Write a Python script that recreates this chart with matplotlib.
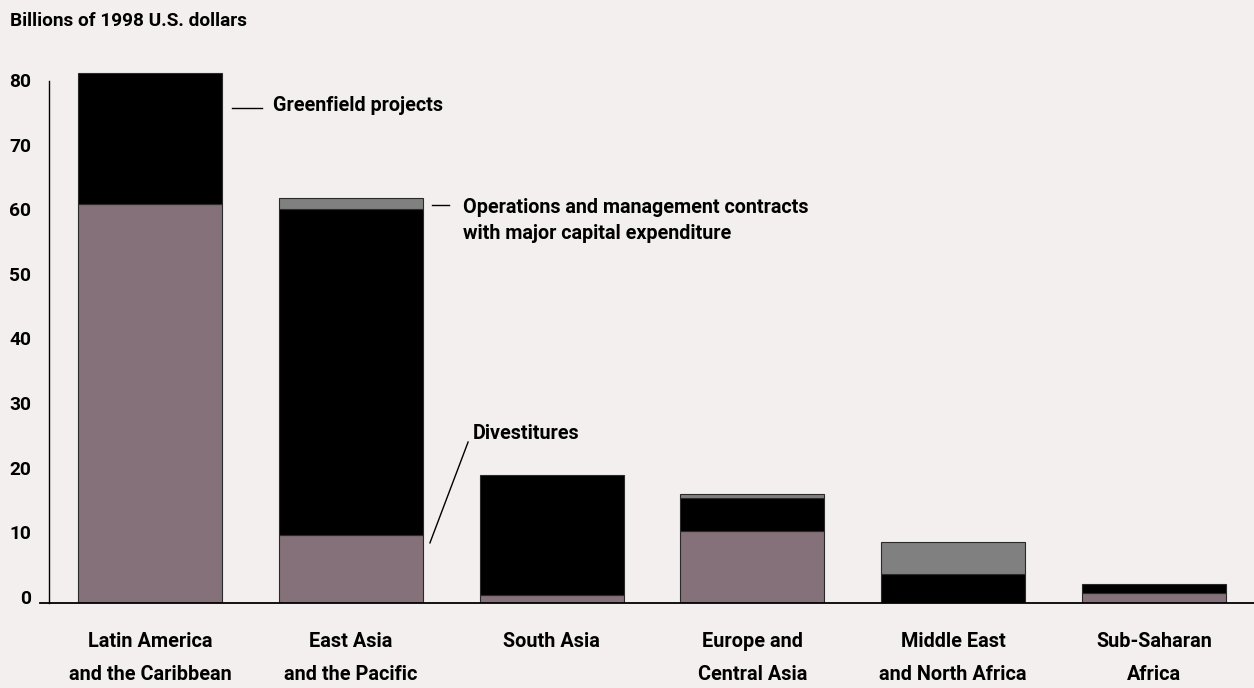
import matplotlib
matplotlib.use("Agg")
import matplotlib.pyplot as plt
from matplotlib.transforms import ScaledTranslation
from matplotlib import font_manager
import numpy as np

# Investment in infrastructure projects with private participation, by region
regions = [
    "Latin America\nand the Caribbean",
    "East Asia\nand the Pacific",
    "South Asia\n",
    "Europe and\nCentral Asia",
    "Middle East\nand North Africa",
    "Sub-Saharan\nAfrica",
]
divestitures = [61.8, 10.5, 1.2, 11.1, 0.0, 1.5]
greenfield = [20.2, 50.5, 18.6, 5.2, 4.5, 1.4]
om_contracts = [0.0, 1.7, 0.0, 0.6, 4.9, 0.0]
y_ticks = [0, 10, 20, 30, 40, 50, 60, 70, 80]

BG = "#f3efee"
MAUVE = "#857179"
GREY = "#808080"
EDGE = "#2a2a2a"

available = {f.name for f in font_manager.fontManager.ttflist}
narrow = "Liberation Sans Narrow" if "Liberation Sans Narrow" in available else "Roboto"
plt.rcParams["font.family"] = [narrow, "DejaVu Sans"]
plt.rcParams["font.weight"] = "bold"

fig = plt.figure(figsize=(12.54, 6.88), dpi=100, facecolor=BG)
W, H = 1254, 688
ax = fig.add_axes([40 / W, (688 - 603) / H, 1 - 40 / W, (603 - 60) / H])
ax.set_facecolor(BG)

x = np.arange(len(regions))
width = 0.717
div = np.array(divestitures)
grn = np.array(greenfield)
om = np.array(om_contracts)

kw = dict(width=width, edgecolor=EDGE, linewidth=0.8)
ax.bar(x, div, color=MAUVE, **kw)
ax.bar(x, grn, bottom=div, color="black", **kw)
ax.bar(x[om > 0], om[om > 0], bottom=(div + grn)[om > 0], color=GREY, **kw)

ax.set_xlim(-0.548, 5.498)
ax.set_ylim(0, 84)

for s in ("top", "right"):
    ax.spines[s].set_visible(False)
ax.spines["left"].set_position(("axes", 9 / 1214))
ax.spines["left"].set_bounds(0, 80.8)
ax.spines["left"].set_linewidth(1.0)
ax.spines["bottom"].set_linewidth(1.3)

ax.set_yticks(y_ticks)
ax.set_yticklabels([str(t) for t in y_ticks], fontsize=13.8, fontweight="bold")
ax.tick_params(axis="y", length=0, pad=13)
for lbl in ax.get_yticklabels():
    lbl.set_transform(lbl.get_transform() + ScaledTranslation(0, 0.06, fig.dpi_scale_trans))

ax.set_xticks(x)
ax.set_xticklabels(regions, fontsize=14.3, fontweight="bold", linespacing=1.95)
ax.tick_params(axis="x", length=0, pad=21)

fig.text(10 / W, 1 - 21 / H, "Billions of 1998 U.S. dollars", fontsize=13.7,
         fontweight="bold", va="center", ha="left")

# series callouts
ax.plot([0.408, 0.558], [76.6, 76.6], color="black", lw=1.0, clip_on=False)
ax.text(0.613, 76.9, "Greenfield projects", fontsize=14.2, fontweight="bold", va="center")

ax.plot([1.404, 1.489], [61.6, 61.6], color="black", lw=1.0, clip_on=False)
ax.text(1.559, 59.2, "Operations and management contracts\nwith major capital expenditure",
        fontsize=14.2, fontweight="bold", va="center", linespacing=1.45)

ax.plot([1.394, 1.584], [9.3, 24.9], color="black", lw=1.0, clip_on=False)
ax.text(1.609, 26.2, "Divestitures", fontsize=14.2, fontweight="bold", va="center")

fig.savefig("out.png", dpi=100, facecolor=BG)
